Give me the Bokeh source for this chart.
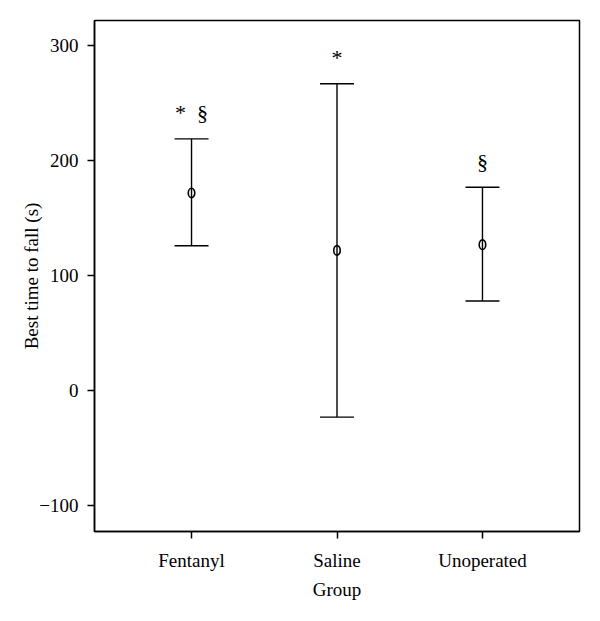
from bokeh.plotting import figure
from bokeh.models import ColumnDataSource, Whisker, TeeHead, FixedTicker
from bokeh.core.properties import value
from bokeh.embed import file_html
from bokeh.resources import INLINE

groups = ["Fentanyl", "Saline", "Unoperated"]
means = [172, 122, 127]
uppers = [219, 267, 177]
lowers = [126, -23, 78]
marks = ["*\u2002\u00a7", "*", "\u00a7"]

xs = [1, 2, 3]
src = ColumnDataSource(dict(x=xs, mean=means, upper=uppers, lower=lowers, mark=marks))

FONT = "Liberation Serif"

p = figure(frame_width=485, frame_height=511, output_backend="svg", toolbar_location=None,
           x_range=(0.333, 3.667), y_range=(-122.5, 322))
p.min_border_left = 94
p.min_border_right = 11
p.min_border_top = 20
p.min_border_bottom = 78
p.xgrid.visible = False
p.ygrid.visible = False
p.outline_line_color = "black"
p.outline_line_width = 1.5
p.outline_line_alpha = 1

w = Whisker(base="x", upper="upper", lower="lower", source=src,
            line_color="black", line_width=1.4,
            upper_head=TeeHead(size=34, line_color="black", line_width=1.4),
            lower_head=TeeHead(size=34, line_color="black", line_width=1.4))
p.add_layout(w)

p.ellipse(x="x", y="mean", width=6.5, height=9.5, width_units="screen", height_units="screen",
          source=src, fill_alpha=0, line_color="black", line_width=1.6)

p.text(x="x", y="upper", text="mark", source=src, y_offset=-26,
       text_align="center", text_baseline="middle",
       text_font=value(FONT), text_font_size="22px", text_color="black")

for ax in (p.xaxis[0], p.yaxis[0]):
    ax.axis_line_color = "black"
    ax.axis_line_width = 1.5
    ax.major_tick_line_color = "black"
    ax.major_tick_line_width = 1.5
    ax.major_tick_out = 7
    ax.major_tick_in = 0
    ax.minor_tick_line_color = None
    ax.major_label_text_font = FONT
    ax.major_label_text_font_size = "19px"
    ax.major_label_text_color = "black"
    ax.axis_label_text_font = FONT
    ax.axis_label_text_font_size = "19px"
    ax.axis_label_text_font_style = "normal"
    ax.axis_label_text_color = "black"

p.xaxis.ticker = FixedTicker(ticks=xs)
p.xaxis.major_label_overrides = {x: g for x, g in zip(xs, groups)}
p.xaxis.axis_label = "Group"
p.xaxis.major_label_standoff = 11
p.xaxis.axis_label_standoff = 5

p.yaxis.ticker = FixedTicker(ticks=[-100, 0, 100, 200, 300])
p.yaxis.major_label_overrides = {-100: "\u2212100"}
p.yaxis.axis_label = "Best time to fall (s)"
p.yaxis.major_label_standoff = 9
p.yaxis.axis_label_standoff = -6

open("out.html", "w").write(file_html(p, INLINE))
